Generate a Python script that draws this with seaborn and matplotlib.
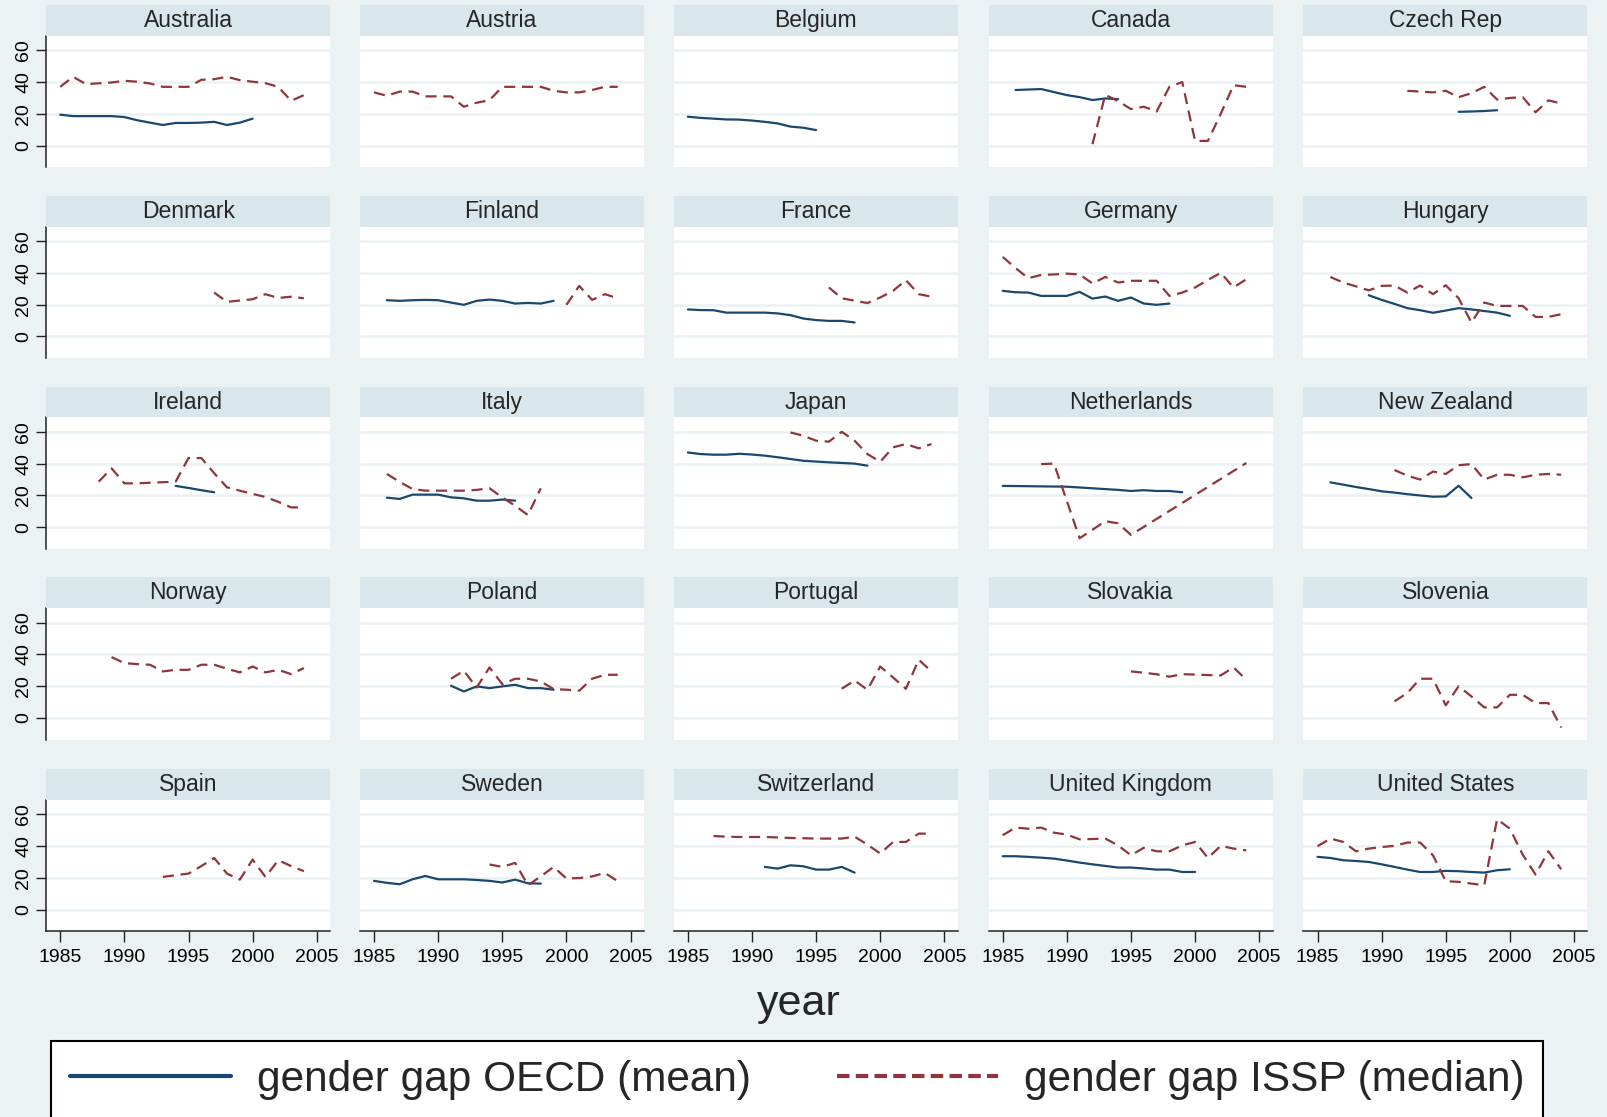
import pandas as pd
import matplotlib
matplotlib.use("Agg")
import matplotlib.pyplot as plt
from matplotlib.patches import Rectangle
from matplotlib.lines import Line2D
import seaborn as sns

# values (gender gap, per country and year)
countries = ["Australia", "Austria", "Belgium", "Canada", "Czech Rep",
             "Denmark", "Finland", "France", "Germany", "Hungary",
             "Ireland", "Italy", "Japan", "Netherlands", "New Zealand",
             "Norway", "Poland", "Portugal", "Slovakia", "Slovenia",
             "Spain", "Sweden", "Switzerland", "United Kingdom", "United States"]

aus_oecd = [19.5, 18.6, 18.6, 18.6, 18.6, 18.0, 16.0, 14.5, 13.0, 14.3, 14.3, 14.5, 15.0, 13.0, 14.5, 17.0]
aus_issp = [37, 43.3, 38.7, 39.2, 39.7, 40.8, 40.2, 39.1, 37, 37, 37, 41.4, 41.8, 43.3, 41.2, 40.2, 39.3, 37, 28.2, 31.8]
aut_issp = [33.5, 31.4, 34, 34, 31, 31, 31, 24.5, 27, 28.6, 37, 37, 37, 37, 34.5, 33.5, 33.5, 35, 37, 37]
bel_oecd = [18.2, 17.5, 17.0, 16.5, 16.4, 15.8, 15.0, 14.0, 12.0, 11.3, 9.8]
can_oecd = [35, 35.3, 35.6, 33.7, 31.8, 30.5, 28.7, 29.7, 29.3]
can_issp = [1, 32, 28, 23, 24.5, 21.5, 37, 40, 3, 3, 20, 38, 37]
cze_oecd = [21.3, 21.5, 21.8, 22.3]
cze_issp = [34.5, 34, 33.5, 34.5, 30.5, 33, 37, 29, 30, 30.5, 21, 28.5, 26.5]
dnk_issp = [27.6, 21.8, 22.6, 23.4, 26.6, 24.2, 25, 24]
fin_oecd = [22.8, 22.4, 22.8, 23, 22.8, 21.3, 19.9, 22.4, 23.2, 22.4, 20.7, 21.1, 20.7, 22.4]
fin_issp = [19.9, 31.8, 23, 26.6, 24]
fra_oecd = [17, 16.6, 16.5, 15, 15, 15, 15, 14.5, 13.4, 11.3, 10.3, 9.8, 9.8, 8.8]
fra_issp = [30.8, 24, 22.5, 21, 24.5, 28.7, 35.4, 26.6, 25]
deu_oecd = [28.7, 27.8, 27.6, 25.5, 25.5, 25.5, 28, 23.8, 25.1, 22.4, 24.5, 20.7, 19.9, 20.7]
deu_issp = [50, 43, 36.6, 38.7, 39, 39.5, 39, 33.3, 37.4, 33.9, 35, 35, 35, 25.5, 27.6, 30.8, 35.5, 40, 30.8, 36]
hun_oecd = [25.9, 23, 20.5, 17.8, 16.5, 14.9, 16.3, 17.8, 17, 16, 15, 13]
hun_issp = [37.4, 33.9, 31.5, 29, 31.8, 32, 27.6, 32, 26.6, 32.2, 24, 8.8, 21.3, 19.2, 19.2, 19.2, 12.3, 12.3, 14]
irl_oecd = [26, 24.7, 23.3, 22]
irl_issp = [28.7, 37, 27.6, 27.6, 28, 28.3, 28.7, 43.5, 43.5, 34, 25.1, 23, 21, 19, 16, 12.5, 12.5]
ita_oecd = [18.6, 17.8, 20.5, 20.5, 20.5, 18.8, 18.2, 16.7, 16.7, 17.4, 16.7]
ita_issp = [33.5, 28.5, 24, 23, 23, 23, 23, 23.5, 24.5, 18.8, 13.5, 7.7, 24.5]
jpn_oecd = [47, 46, 45.6, 45.6, 46.2, 45.7, 45, 44, 42.9, 41.8, 41.3, 40.8, 40.4, 40, 38.7]
jpn_issp = [59.6, 57.5, 54.4, 53.8, 60, 54.4, 46, 41.2, 50.2, 52.3, 49.6, 52.3]
nld_oecd = [26, 25.9, 25.8, 25.7, 25.6, 25.5, 25, 24.5, 24, 23.5, 22.8, 23.3, 22.8, 22.8, 22]
nld_issp_years = [1988, 1989, 1991, 1993, 1994, 1995, 2004]
nld_issp = [39.7, 40, -6.9, 3.8, 2.5, -4.8, 40.4]
nzl_oecd = [28.2, 26.8, 25.3, 24, 22.6, 21.8, 20.8, 20, 19.2, 19.4, 26.1, 18.4]
nzl_issp = [36, 32.4, 30, 35, 33.5, 39, 39.7, 30, 33, 33, 31.4, 33, 33.5, 33]
nor_issp = [38.3, 34.5, 33.9, 33.5, 29.3, 30.3, 30.3, 33.5, 33.5, 31, 28.7, 32.4, 28.7, 30.3, 27.6, 31.4]
pol_oecd = [20.3, 16.7, 19.9, 18.8, 19.9, 20.9, 18.8, 18.8, 17.8]
pol_issp = [24.7, 29.7, 19.2, 31.8, 21.3, 24.7, 24.7, 23, 18.2, 17.8, 17.2, 24.7, 27.2, 27.2]
prt_issp = [18.4, 23.6, 17.8, 32.4, 25.5, 18.4, 36.6, 29.3]
svk_issp = [29.3, 28.5, 27.5, 26, 27.6, 27.3, 27, 26.8, 31.8, 24]
svn_issp = [10.5, 15.7, 24.7, 24.7, 8, 20, 13.6, 6.7, 6.7, 14.6, 14.6, 9.4, 9.4, -6]
esp_issp = [20.7, 21.8, 22.8, 27.5, 32.6, 22.8, 19, 31.6, 20.7, 31.2, 27.5, 24.3]
swe_oecd = [18.2, 17, 16.1, 19.2, 21.3, 19.2, 19.2, 19.2, 18.8, 18.2, 17.2, 19, 16.7, 16.5]
swe_issp = [28.5, 27, 29.5, 15.5, 21, 27, 19.7, 20, 21, 23.2, 18]
che_oecd = [27, 25.9, 28, 27.4, 25.3, 25.3, 27, 23.4]
che_issp = [46.4, 46, 45.8, 45.8, 45.8, 45.5, 45.2, 45, 44.8, 44.8, 44.8, 46, 41, 35.4, 42.7, 42.7, 47.9, 47.9]
gbr_oecd = [33.7, 33.7, 33.3, 32.8, 32.2, 31, 29.7, 28.6, 27.6, 26.6, 26.6, 26, 25.3, 25.3, 23.8, 23.8]
gbr_issp = [46.9, 51.7, 51, 51.7, 48.5, 47.3, 44.3, 44.5, 44.8, 40.5, 34.3, 39, 36.8, 36.8, 40.5, 42.7, 32.6, 40.2, 38.5, 37.4]
usa_oecd = [33.3, 32.6, 31.2, 30.7, 30.1, 28.6, 27, 25.3, 23.8, 23.8, 24.5, 24.3, 23.8, 23.4, 24.9, 25.5]
usa_issp = [40, 44.8, 42.7, 36.8, 38.5, 39.5, 40.2, 42.3, 42.3, 34.3, 18, 17.6, 16.5, 15.5, 57, 51, 34.7, 22.2, 36.8, 25.5]

# (country, series, first year, values) -> consecutive years
series_list = [
    ("Australia", "OECD", 1985, aus_oecd), ("Australia", "ISSP", 1985, aus_issp),
    ("Austria", "ISSP", 1985, aut_issp),
    ("Belgium", "OECD", 1985, bel_oecd),
    ("Canada", "OECD", 1986, can_oecd), ("Canada", "ISSP", 1992, can_issp),
    ("Czech Rep", "OECD", 1996, cze_oecd), ("Czech Rep", "ISSP", 1992, cze_issp),
    ("Denmark", "ISSP", 1997, dnk_issp),
    ("Finland", "OECD", 1986, fin_oecd), ("Finland", "ISSP", 2000, fin_issp),
    ("France", "OECD", 1985, fra_oecd), ("France", "ISSP", 1996, fra_issp),
    ("Germany", "OECD", 1985, deu_oecd), ("Germany", "ISSP", 1985, deu_issp),
    ("Hungary", "OECD", 1989, hun_oecd), ("Hungary", "ISSP", 1986, hun_issp),
    ("Ireland", "OECD", 1994, irl_oecd), ("Ireland", "ISSP", 1988, irl_issp),
    ("Italy", "OECD", 1986, ita_oecd), ("Italy", "ISSP", 1986, ita_issp),
    ("Japan", "OECD", 1985, jpn_oecd), ("Japan", "ISSP", 1993, jpn_issp),
    ("Netherlands", "OECD", 1985, nld_oecd),
    ("New Zealand", "OECD", 1986, nzl_oecd), ("New Zealand", "ISSP", 1991, nzl_issp),
    ("Norway", "ISSP", 1989, nor_issp),
    ("Poland", "OECD", 1991, pol_oecd), ("Poland", "ISSP", 1991, pol_issp),
    ("Portugal", "ISSP", 1997, prt_issp),
    ("Slovakia", "ISSP", 1995, svk_issp),
    ("Slovenia", "ISSP", 1991, svn_issp),
    ("Spain", "ISSP", 1993, esp_issp),
    ("Sweden", "OECD", 1985, swe_oecd), ("Sweden", "ISSP", 1994, swe_issp),
    ("Switzerland", "OECD", 1991, che_oecd), ("Switzerland", "ISSP", 1987, che_issp),
    ("United Kingdom", "OECD", 1985, gbr_oecd), ("United Kingdom", "ISSP", 1985, gbr_issp),
    ("United States", "OECD", 1985, usa_oecd), ("United States", "ISSP", 1985, usa_issp),
]

rows = []
for country, ser, start, vals in series_list:
    for i, v in enumerate(vals):
        rows.append({"country": country, "series": ser, "year": start + i, "gap": v})
for yr, v in zip(nld_issp_years, nld_issp):
    rows.append({"country": "Netherlands", "series": "ISSP", "year": yr, "gap": v})
df = pd.DataFrame(rows)

# Stata s2color look
bg = "#EAF2F3"
strip_col = "#D9E6EB"
navy = "#1A476F"
maroon = "#90353B"
palette = {"OECD": navy, "ISSP": maroon}
dashes = {"OECD": "", "ISSP": (5, 3)}

sns.set_style("white")
plt.rcParams["font.family"] = ["Liberation Sans", "DejaVu Sans"]

W, H = 1568, 1089
fig = plt.figure(figsize=(16.08, 11.17), dpi=100, facecolor=bg)

col_left = [45, 351, 657, 964, 1271]
row_top = [35, 221, 407, 593, 780]
pw, ph, sh = 277, 128, 30

for k, country in enumerate(countries):
    r, c = divmod(k, 5)
    left = col_left[c] / W
    bottom = 1 - (row_top[r] + ph) / H
    ax = fig.add_axes([left, bottom, pw / W, ph / H])
    ax.set_facecolor("white")

    sub = df[df["country"] == country]
    sns.lineplot(data=sub, x="year", y="gap", hue="series", style="series",
                 palette=palette, dashes=dashes, estimator=None, sort=True,
                 linewidth=1.6, legend=False, ax=ax)

    ax.set_xlim(1983.9, 2006.05)
    ax.set_ylim(-13.5, 69)
    ax.set_yticks([0, 20, 40, 60])
    ax.set_xticks([1985, 1990, 1995, 2000, 2005])
    ax.grid(axis="y", color=bg, linewidth=1.8)
    ax.grid(axis="x", visible=False)
    ax.set_axisbelow(True)
    ax.set_xlabel("")
    ax.set_ylabel("")
    for s in ax.spines.values():
        s.set_visible(False)

    if c == 0:
        ax.spines["left"].set_visible(True)
        ax.spines["left"].set_color("#222222")
        ax.spines["left"].set_linewidth(1.1)
        ax.set_yticklabels(["0", "20", "40", "60"], rotation=90, va="center")
        ax.tick_params(axis="y", left=True, length=7, width=1, colors="#222222",
                       labelsize=14, labelcolor="black", pad=3)
    else:
        ax.tick_params(axis="y", left=False, labelleft=False)

    if r == 4:
        ax.spines["bottom"].set_visible(True)
        ax.spines["bottom"].set_color("#222222")
        ax.spines["bottom"].set_linewidth(1.1)
        ax.tick_params(axis="x", bottom=True, length=8, width=1, colors="#222222",
                       labelsize=14, labelcolor="black", pad=5)
    else:
        ax.tick_params(axis="x", bottom=False, labelbottom=False)

    # strip with the country name
    sy = 1 - row_top[r] / H
    fig.add_artist(Rectangle((left, sy), pw / W, sh / H, transform=fig.transFigure,
                             facecolor=strip_col, edgecolor="none"))
    fig.text(left + pw / W / 2, sy + sh / H / 2, country, ha="center", va="center",
             fontsize=16.5)

fig.text(779 / W, 1 - 979 / H, "year", ha="center", va="center", fontsize=31)

handles = [Line2D([], [], color=navy, linewidth=3),
           Line2D([], [], color=maroon, linewidth=3, dashes=(3, 1.5))]
labels = ["gender gap OECD (mean)", "gender gap ISSP (median)"]
leg = fig.legend(handles, labels, loc="upper left",
                 bbox_to_anchor=(50 / W, 1 - 1015 / H - 0.1, 1455 / W, 0.1),
                 mode="expand", ncol=2, fontsize=30.5, handlelength=3.8,
                 frameon=True, fancybox=False, borderaxespad=0, borderpad=0.45,
                 handletextpad=0.6)
leg.get_frame().set_edgecolor("black")
leg.get_frame().set_linewidth(1.5)
leg.get_frame().set_facecolor("white")
leg.get_frame().set_alpha(1)

fig.savefig("out.png", dpi=100, facecolor=bg)
